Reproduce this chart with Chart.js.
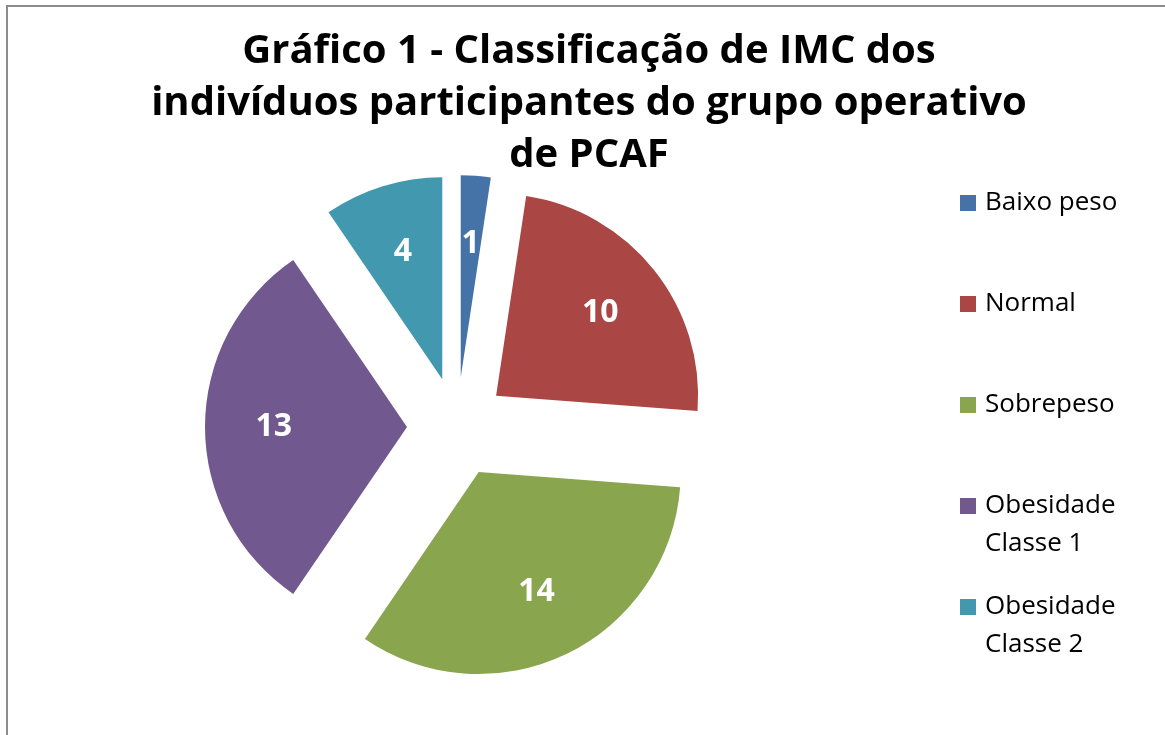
<!DOCTYPE html>
<html>
<head>
<meta charset="utf-8">
<script src="https://cdn.jsdelivr.net/npm/chart.js@4"></script>
<style>
  html, body { margin: 0; padding: 0; background: #fff; }
  #wrap { position: relative; width: 1165px; height: 735px; overflow: hidden; }
  #frame { position: absolute; left: 6px; top: 5px; width: 1200px; height: 800px; border-left: 2px solid #8c8c8c; border-top: 2px solid #8c8c8c; }
  canvas { position: absolute; left: 0; top: 0; }
</style>
</head>
<body>
<div id="wrap">
  <div id="frame"></div>
  <canvas id="grafico" width="1165" height="735"></canvas>
</div>
<script>
const categorias = ['Baixo peso', 'Normal', 'Sobrepeso', 'Obesidade Classe 1', 'Obesidade Classe 2'];
const legendaLinhas = [['Baixo peso'], ['Normal'], ['Sobrepeso'], ['Obesidade', 'Classe 1'], ['Obesidade', 'Classe 2']];
const individuos = [1, 10, 14, 13, 4];
const tituloLinhas = ['Gráfico 1 - Classificação de IMC dos', 'indivíduos participantes do grupo operativo', 'de PCAF'];

// fatias separadas do centro (pie "explodido")
const explodir = {
    id: 'explodir',
    afterUpdate(chart) {
        chart.getDatasetMeta(0).data.forEach(arc => {
            const meio = (arc.startAngle + arc.endAngle) / 2;
            arc.x += Math.cos(meio) * 50;
            arc.y += Math.sin(meio) * 50;
        });
    }
};

// valores em branco dentro das fatias
const rotulos = {
    id: 'rotulos',
    afterDatasetsDraw(chart) {
        const ctx = chart.ctx;
        ctx.save();
        ctx.font = 'bold 32px "Open Sans"';
        ctx.fillStyle = '#ffffff';
        ctx.textAlign = 'center';
        ctx.textBaseline = 'middle';
        chart.getDatasetMeta(0).data.forEach((arc, i) => {
            const meio = (arc.startAngle + arc.endAngle) / 2;
            const r = arc.outerRadius * 0.66;
            ctx.fillText(String(individuos[i]), arc.x + Math.cos(meio) * r, arc.y + Math.sin(meio) * r);
        });
        ctx.restore();
    }
};

// título e legenda à direita
const tituloLegenda = {
    id: 'tituloLegenda',
    afterDraw(chart) {
        const ctx = chart.ctx;
        ctx.save();
        ctx.fillStyle = '#000000';
        ctx.font = 'bold 40px "Open Sans"';
        ctx.textAlign = 'center';
        ctx.textBaseline = 'alphabetic';
        tituloLinhas.forEach((linha, i) => ctx.fillText(linha, 589, 63 + i * 52));

        const cores = chart.data.datasets[0].backgroundColor;
        ctx.font = '26px "Open Sans"';
        ctx.textAlign = 'left';
        ctx.textBaseline = 'middle';
        legendaLinhas.forEach((linhas, i) => {
            const y = 203 + i * 101;
            ctx.fillStyle = cores[i];
            ctx.fillRect(960, y - 8, 16, 16);
            ctx.fillStyle = '#000000';
            linhas.forEach((t, j) => ctx.fillText(t, 985, y + j * 38));
        });
        ctx.restore();
    }
};

new Chart(
    document.getElementById('grafico'),
    {
        type: 'pie',
        data: {
            labels: categorias,
            datasets: [
                {
                    data: individuos,
                    backgroundColor: ['#4572A7', '#AA4643', '#89A54E', '#71588F', '#4198AF'],
                    borderWidth: 0,
                    radius: 202
                }
            ]
        },
        options: {
            responsive: false,
            animation: false,
            events: [],
            layout: {
                padding: { left: 10, right: 261, top: 150, bottom: 31 }
            },
            plugins: {
                legend: { display: false },
                title: { display: false },
                tooltip: { enabled: false }
            }
        },
        plugins: [explodir, rotulos, tituloLegenda]
    }
);
</script>
</body>
</html>
